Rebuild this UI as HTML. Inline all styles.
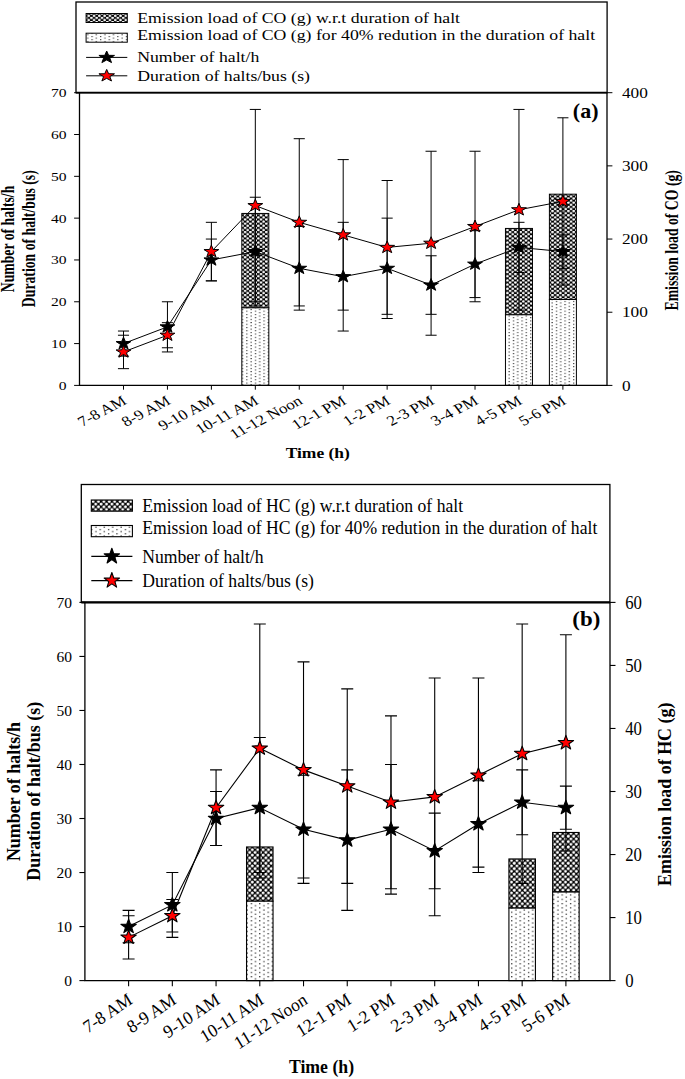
<!DOCTYPE html>
<html><head><meta charset="utf-8"><style>
html,body{margin:0;padding:0;background:#fff;width:685px;height:1079px;overflow:hidden}
svg{display:block;position:absolute;left:0;top:0}
text{font-family:"Liberation Serif",serif;fill:#000}
</style></head><body>
<svg width="685" height="1079" viewBox="0 0 685 1079">
<defs>
<pattern id="xha" width="5.3" height="4.2" patternUnits="userSpaceOnUse"><rect width="5.3" height="4.2" fill="#000"/><circle cx="1.3" cy="1.05" r="1.3" fill="#fff"/><circle cx="3.95" cy="3.15" r="1.3" fill="#fff"/><circle cx="-1.35" cy="3.15" r="1.3" fill="#fff"/><circle cx="3.95" cy="-1.05" r="1.3" fill="#fff"/><circle cx="-1.35" cy="-1.05" r="1.3" fill="#fff"/></pattern>
<pattern id="xhb" width="5.4" height="5.4" patternUnits="userSpaceOnUse" x="509.5" y="858.6"><rect width="5.4" height="5.4" fill="#000"/><circle cx="2.0" cy="1.9" r="1.5" fill="#fff"/><circle cx="4.7" cy="4.6" r="1.5" fill="#fff"/><circle cx="-0.7" cy="4.6" r="1.5" fill="#fff"/><circle cx="4.7" cy="-0.8" r="1.5" fill="#fff"/><circle cx="-0.7" cy="-0.8" r="1.5" fill="#fff"/></pattern>
<pattern id="dta" width="8.6" height="3.27" patternUnits="userSpaceOnUse" x="246.2" y="0"><rect width="8.6" height="3.27" fill="#fff"/><rect x="0" y="0" width="1.3" height="1.0" fill="#333"/><rect x="4.3" y="1.63" width="1.3" height="1.0" fill="#333"/></pattern>
<pattern id="dtb" width="8.4" height="4.3" patternUnits="userSpaceOnUse" x="250.7" y="903.0"><rect width="8.4" height="4.3" fill="#fff"/><rect x="0" y="0" width="1.3" height="1.2" fill="#333"/><rect x="4.2" y="2.15" width="1.3" height="1.2" fill="#333"/></pattern>
</defs>
<rect width="685" height="1079" fill="#fff"/>
<g id="ca">
<rect x="76.00" y="2.00" width="531.10" height="90.70" fill="none" stroke="#000" stroke-width="1.3"/>
<rect x="241.82" y="213.44" width="27.00" height="94.40" fill="url(#xha)" stroke="#000" stroke-width="1.0"/>
<rect x="241.82" y="307.83" width="27.00" height="77.57" fill="url(#dta)" stroke="#000" stroke-width="1.0"/>
<rect x="505.46" y="228.44" width="27.00" height="86.35" fill="url(#xha)" stroke="#000" stroke-width="1.0"/>
<rect x="505.46" y="314.79" width="27.00" height="70.61" fill="url(#dta)" stroke="#000" stroke-width="1.0"/>
<rect x="549.40" y="194.19" width="27.00" height="105.30" fill="url(#xha)" stroke="#000" stroke-width="1.0"/>
<rect x="549.40" y="299.49" width="27.00" height="85.91" fill="url(#dta)" stroke="#000" stroke-width="1.0"/>
<path d="M79.50,92.70 V385.40 H607.00 V92.70" fill="none" stroke="#000" stroke-width="1.3"/>
<line x1="76.00" y1="92.70" x2="607.00" y2="92.70" stroke="#000" stroke-width="1.8"/>
<line x1="74.10" y1="385.40" x2="79.50" y2="385.40" stroke="#000" stroke-width="1.0"/>
<line x1="74.10" y1="343.59" x2="79.50" y2="343.59" stroke="#000" stroke-width="1.0"/>
<line x1="74.10" y1="301.77" x2="79.50" y2="301.77" stroke="#000" stroke-width="1.0"/>
<line x1="74.10" y1="259.96" x2="79.50" y2="259.96" stroke="#000" stroke-width="1.0"/>
<line x1="74.10" y1="218.14" x2="79.50" y2="218.14" stroke="#000" stroke-width="1.0"/>
<line x1="74.10" y1="176.33" x2="79.50" y2="176.33" stroke="#000" stroke-width="1.0"/>
<line x1="74.10" y1="134.51" x2="79.50" y2="134.51" stroke="#000" stroke-width="1.0"/>
<line x1="74.10" y1="92.70" x2="79.50" y2="92.70" stroke="#000" stroke-width="1.0"/>
<line x1="607.00" y1="385.40" x2="612.40" y2="385.40" stroke="#000" stroke-width="1.0"/>
<line x1="607.00" y1="312.22" x2="612.40" y2="312.22" stroke="#000" stroke-width="1.0"/>
<line x1="607.00" y1="239.05" x2="612.40" y2="239.05" stroke="#000" stroke-width="1.0"/>
<line x1="607.00" y1="165.87" x2="612.40" y2="165.87" stroke="#000" stroke-width="1.0"/>
<line x1="607.00" y1="92.70" x2="612.40" y2="92.70" stroke="#000" stroke-width="1.0"/>
<line x1="123.50" y1="385.40" x2="123.50" y2="389.70" stroke="#000" stroke-width="1.0"/>
<line x1="167.44" y1="385.40" x2="167.44" y2="389.70" stroke="#000" stroke-width="1.0"/>
<line x1="211.38" y1="385.40" x2="211.38" y2="389.70" stroke="#000" stroke-width="1.0"/>
<line x1="255.32" y1="385.40" x2="255.32" y2="389.70" stroke="#000" stroke-width="1.0"/>
<line x1="299.26" y1="385.40" x2="299.26" y2="389.70" stroke="#000" stroke-width="1.0"/>
<line x1="343.20" y1="385.40" x2="343.20" y2="389.70" stroke="#000" stroke-width="1.0"/>
<line x1="387.14" y1="385.40" x2="387.14" y2="389.70" stroke="#000" stroke-width="1.0"/>
<line x1="431.08" y1="385.40" x2="431.08" y2="389.70" stroke="#000" stroke-width="1.0"/>
<line x1="475.02" y1="385.40" x2="475.02" y2="389.70" stroke="#000" stroke-width="1.0"/>
<line x1="518.96" y1="385.40" x2="518.96" y2="389.70" stroke="#000" stroke-width="1.0"/>
<line x1="562.90" y1="385.40" x2="562.90" y2="389.70" stroke="#000" stroke-width="1.0"/>
<polyline points="123.50,343.59 167.44,326.86 211.38,259.96 255.32,251.59 299.26,268.32 343.20,276.68 387.14,268.32 431.08,285.05 475.02,264.14 518.96,247.41 562.90,251.59" fill="none" stroke="#000" stroke-width="1.0"/>
<path d="M123.50,356.13 V331.04 M117.95,356.13 H129.05 M117.95,331.04 H129.05" fill="none" stroke="#000" stroke-width="1.0"/>
<path d="M167.44,351.95 V301.77 M161.89,351.95 H172.99 M161.89,301.77 H172.99" fill="none" stroke="#000" stroke-width="1.0"/>
<path d="M211.38,280.86 V239.05 M205.83,280.86 H216.93 M205.83,239.05 H216.93" fill="none" stroke="#000" stroke-width="1.0"/>
<path d="M255.32,305.95 V197.24 M249.77,305.95 H260.87 M249.77,197.24 H260.87" fill="none" stroke="#000" stroke-width="1.0"/>
<path d="M299.26,310.13 V226.51 M293.71,310.13 H304.81 M293.71,226.51 H304.81" fill="none" stroke="#000" stroke-width="1.0"/>
<path d="M343.20,331.04 V222.32 M337.65,331.04 H348.75 M337.65,222.32 H348.75" fill="none" stroke="#000" stroke-width="1.0"/>
<path d="M387.14,318.50 V218.14 M381.59,318.50 H392.69 M381.59,218.14 H392.69" fill="none" stroke="#000" stroke-width="1.0"/>
<path d="M431.08,314.32 V255.78 M425.53,314.32 H436.63 M425.53,255.78 H436.63" fill="none" stroke="#000" stroke-width="1.0"/>
<path d="M475.02,297.59 V230.69 M469.47,297.59 H480.57 M469.47,230.69 H480.57" fill="none" stroke="#000" stroke-width="1.0"/>
<path d="M518.96,272.50 V222.32 M513.41,272.50 H524.51 M513.41,222.32 H524.51" fill="none" stroke="#000" stroke-width="1.0"/>
<path d="M562.90,268.32 V234.87 M557.35,268.32 H568.45 M557.35,234.87 H568.45" fill="none" stroke="#000" stroke-width="1.0"/>
<polyline points="123.50,351.95 167.44,335.22 211.38,251.59 255.32,205.60 299.26,222.32 343.20,234.87 387.14,247.41 431.08,243.23 475.02,226.51 518.96,209.78 562.90,201.42" fill="none" stroke="#000" stroke-width="1.0"/>
<path d="M123.50,368.67 V335.22 M117.95,368.67 H129.05 M117.95,335.22 H129.05" fill="none" stroke="#000" stroke-width="1.0"/>
<path d="M167.44,347.77 V322.68 M161.89,347.77 H172.99 M161.89,322.68 H172.99" fill="none" stroke="#000" stroke-width="1.0"/>
<path d="M211.38,280.86 V222.32 M205.83,280.86 H216.93 M205.83,222.32 H216.93" fill="none" stroke="#000" stroke-width="1.0"/>
<path d="M255.32,301.77 V109.43 M249.77,301.77 H260.87 M249.77,109.43 H260.87" fill="none" stroke="#000" stroke-width="1.0"/>
<path d="M299.26,305.95 V138.70 M293.71,305.95 H304.81 M293.71,138.70 H304.81" fill="none" stroke="#000" stroke-width="1.0"/>
<path d="M343.20,310.13 V159.60 M337.65,310.13 H348.75 M337.65,159.60 H348.75" fill="none" stroke="#000" stroke-width="1.0"/>
<path d="M387.14,314.32 V180.51 M381.59,314.32 H392.69 M381.59,180.51 H392.69" fill="none" stroke="#000" stroke-width="1.0"/>
<path d="M431.08,335.22 V151.24 M425.53,335.22 H436.63 M425.53,151.24 H436.63" fill="none" stroke="#000" stroke-width="1.0"/>
<path d="M475.02,301.77 V151.24 M469.47,301.77 H480.57 M469.47,151.24 H480.57" fill="none" stroke="#000" stroke-width="1.0"/>
<path d="M518.96,310.13 V109.43 M513.41,310.13 H524.51 M513.41,109.43 H524.51" fill="none" stroke="#000" stroke-width="1.0"/>
<path d="M562.90,285.05 V117.79 M557.35,285.05 H568.45 M557.35,117.79 H568.45" fill="none" stroke="#000" stroke-width="1.0"/>
<polygon points="123.50,337.09 125.33,341.48 130.92,341.58 126.47,344.39 128.08,348.84 123.50,346.19 118.92,348.84 120.53,344.39 116.08,341.58 121.67,341.48" fill="#000" stroke="#000" stroke-width="1.0" stroke-linejoin="round"/>
<polygon points="167.44,320.36 169.27,324.76 174.86,324.85 170.41,327.66 172.02,332.12 167.44,329.46 162.86,332.12 164.47,327.66 160.02,324.85 165.61,324.76" fill="#000" stroke="#000" stroke-width="1.0" stroke-linejoin="round"/>
<polygon points="211.38,253.46 213.21,257.85 218.80,257.95 214.35,260.76 215.96,265.22 211.38,262.56 206.80,265.22 208.41,260.76 203.96,257.95 209.55,257.85" fill="#000" stroke="#000" stroke-width="1.0" stroke-linejoin="round"/>
<polygon points="255.32,245.09 257.15,249.49 262.74,249.59 258.29,252.40 259.90,256.85 255.32,254.19 250.74,256.85 252.35,252.40 247.90,249.59 253.49,249.49" fill="#000" stroke="#000" stroke-width="1.0" stroke-linejoin="round"/>
<polygon points="299.26,261.82 301.09,266.22 306.68,266.31 302.23,269.12 303.84,273.58 299.26,270.92 294.68,273.58 296.29,269.12 291.84,266.31 297.43,266.22" fill="#000" stroke="#000" stroke-width="1.0" stroke-linejoin="round"/>
<polygon points="343.20,270.18 345.03,274.58 350.62,274.67 346.17,277.49 347.78,281.94 343.20,279.28 338.62,281.94 340.23,277.49 335.78,274.67 341.37,274.58" fill="#000" stroke="#000" stroke-width="1.0" stroke-linejoin="round"/>
<polygon points="387.14,261.82 388.97,266.22 394.56,266.31 390.11,269.12 391.72,273.58 387.14,270.92 382.56,273.58 384.17,269.12 379.72,266.31 385.31,266.22" fill="#000" stroke="#000" stroke-width="1.0" stroke-linejoin="round"/>
<polygon points="431.08,278.55 432.91,282.94 438.50,283.04 434.05,285.85 435.66,290.30 431.08,287.65 426.50,290.30 428.11,285.85 423.66,283.04 429.25,282.94" fill="#000" stroke="#000" stroke-width="1.0" stroke-linejoin="round"/>
<polygon points="475.02,257.64 476.85,262.04 482.44,262.13 477.99,264.94 479.60,269.40 475.02,266.74 470.44,269.40 472.05,264.94 467.60,262.13 473.19,262.04" fill="#000" stroke="#000" stroke-width="1.0" stroke-linejoin="round"/>
<polygon points="518.96,240.91 520.79,245.31 526.38,245.40 521.93,248.22 523.54,252.67 518.96,250.01 514.38,252.67 515.99,248.22 511.54,245.40 517.13,245.31" fill="#000" stroke="#000" stroke-width="1.0" stroke-linejoin="round"/>
<polygon points="562.90,245.09 564.73,249.49 570.32,249.59 565.87,252.40 567.48,256.85 562.90,254.19 558.32,256.85 559.93,252.40 555.48,249.59 561.07,249.49" fill="#000" stroke="#000" stroke-width="1.0" stroke-linejoin="round"/>
<polygon points="123.50,345.45 125.33,349.85 130.92,349.94 126.47,352.75 128.08,357.21 123.50,354.55 118.92,357.21 120.53,352.75 116.08,349.94 121.67,349.85" fill="#ff0000" stroke="#000" stroke-width="1.0" stroke-linejoin="round"/>
<polygon points="167.44,328.72 169.27,333.12 174.86,333.21 170.41,336.03 172.02,340.48 167.44,337.82 162.86,340.48 164.47,336.03 160.02,333.21 165.61,333.12" fill="#ff0000" stroke="#000" stroke-width="1.0" stroke-linejoin="round"/>
<polygon points="211.38,245.09 213.21,249.49 218.80,249.59 214.35,252.40 215.96,256.85 211.38,254.19 206.80,256.85 208.41,252.40 203.96,249.59 209.55,249.49" fill="#ff0000" stroke="#000" stroke-width="1.0" stroke-linejoin="round"/>
<polygon points="255.32,199.10 257.15,203.50 262.74,203.59 258.29,206.40 259.90,210.86 255.32,208.20 250.74,210.86 252.35,206.40 247.90,203.59 253.49,203.50" fill="#ff0000" stroke="#000" stroke-width="1.0" stroke-linejoin="round"/>
<polygon points="299.26,215.82 301.09,220.22 306.68,220.32 302.23,223.13 303.84,227.58 299.26,224.92 294.68,227.58 296.29,223.13 291.84,220.32 297.43,220.22" fill="#ff0000" stroke="#000" stroke-width="1.0" stroke-linejoin="round"/>
<polygon points="343.20,228.37 345.03,232.77 350.62,232.86 346.17,235.67 347.78,240.13 343.20,237.47 338.62,240.13 340.23,235.67 335.78,232.86 341.37,232.77" fill="#ff0000" stroke="#000" stroke-width="1.0" stroke-linejoin="round"/>
<polygon points="387.14,240.91 388.97,245.31 394.56,245.40 390.11,248.22 391.72,252.67 387.14,250.01 382.56,252.67 384.17,248.22 379.72,245.40 385.31,245.31" fill="#ff0000" stroke="#000" stroke-width="1.0" stroke-linejoin="round"/>
<polygon points="431.08,236.73 432.91,241.13 438.50,241.22 434.05,244.03 435.66,248.49 431.08,245.83 426.50,248.49 428.11,244.03 423.66,241.22 429.25,241.13" fill="#ff0000" stroke="#000" stroke-width="1.0" stroke-linejoin="round"/>
<polygon points="475.02,220.01 476.85,224.40 482.44,224.50 477.99,227.31 479.60,231.76 475.02,229.11 470.44,231.76 472.05,227.31 467.60,224.50 473.19,224.40" fill="#ff0000" stroke="#000" stroke-width="1.0" stroke-linejoin="round"/>
<polygon points="518.96,203.28 520.79,207.68 526.38,207.77 521.93,210.58 523.54,215.04 518.96,212.38 514.38,215.04 515.99,210.58 511.54,207.77 517.13,207.68" fill="#ff0000" stroke="#000" stroke-width="1.0" stroke-linejoin="round"/>
<polygon points="562.90,194.92 564.73,199.31 570.32,199.41 565.87,202.22 567.48,206.68 562.90,204.02 558.32,206.68 559.93,202.22 555.48,199.41 561.07,199.31" fill="#ff0000" stroke="#000" stroke-width="1.0" stroke-linejoin="round"/>
<text transform="translate(66.60,389.80) scale(1.2,1)" text-anchor="end" font-size="13">0</text>
<text transform="translate(66.60,347.99) scale(1.2,1)" text-anchor="end" font-size="13">10</text>
<text transform="translate(66.60,306.17) scale(1.2,1)" text-anchor="end" font-size="13">20</text>
<text transform="translate(66.60,264.36) scale(1.2,1)" text-anchor="end" font-size="13">30</text>
<text transform="translate(66.60,222.54) scale(1.2,1)" text-anchor="end" font-size="13">40</text>
<text transform="translate(66.60,180.73) scale(1.2,1)" text-anchor="end" font-size="13">50</text>
<text transform="translate(66.60,138.91) scale(1.2,1)" text-anchor="end" font-size="13">60</text>
<text transform="translate(66.60,97.10) scale(1.2,1)" text-anchor="end" font-size="13">70</text>
<text transform="translate(621.90,390.50) scale(1.15,1)" font-size="15">0</text>
<text transform="translate(621.90,317.32) scale(1.15,1)" font-size="15">100</text>
<text transform="translate(621.90,244.15) scale(1.15,1)" font-size="15">200</text>
<text transform="translate(621.90,170.97) scale(1.15,1)" font-size="15">300</text>
<text transform="translate(621.90,97.80) scale(1.15,1)" font-size="15">400</text>
<text transform="translate(127.80,403.20) scale(1.2,1) rotate(-32)" text-anchor="end" font-size="14.3">7-8 AM</text>
<text transform="translate(171.74,403.20) scale(1.2,1) rotate(-32)" text-anchor="end" font-size="14.3">8-9 AM</text>
<text transform="translate(215.68,403.20) scale(1.2,1) rotate(-32)" text-anchor="end" font-size="14.3">9-10 AM</text>
<text transform="translate(259.62,403.20) scale(1.2,1) rotate(-32)" text-anchor="end" font-size="14.3">10-11 AM</text>
<text transform="translate(303.56,403.20) scale(1.2,1) rotate(-32)" text-anchor="end" font-size="14.3">11-12 Noon</text>
<text transform="translate(347.50,403.20) scale(1.2,1) rotate(-32)" text-anchor="end" font-size="14.3">12-1 PM</text>
<text transform="translate(391.44,403.20) scale(1.2,1) rotate(-32)" text-anchor="end" font-size="14.3">1-2 PM</text>
<text transform="translate(435.38,403.20) scale(1.2,1) rotate(-32)" text-anchor="end" font-size="14.3">2-3 PM</text>
<text transform="translate(479.32,403.20) scale(1.2,1) rotate(-32)" text-anchor="end" font-size="14.3">3-4 PM</text>
<text transform="translate(523.26,403.20) scale(1.2,1) rotate(-32)" text-anchor="end" font-size="14.3">4-5 PM</text>
<text transform="translate(567.20,403.20) scale(1.2,1) rotate(-32)" text-anchor="end" font-size="14.3">5-6 PM</text>
<text transform="translate(317.80,457.60) scale(1.19,1)" text-anchor="middle" font-size="14.7" font-weight="bold">Time (h)</text>
<text transform="translate(14.00,239.00) scale(1.33,1) rotate(-90)" text-anchor="middle" font-size="13.75" font-weight="bold">Number of halts/h</text>
<text transform="translate(34.70,238.70) scale(1.33,1) rotate(-90)" text-anchor="middle" font-size="13.75" font-weight="bold">Duration of halt/bus (s)</text>
<text transform="translate(677.60,240.30) scale(1.33,1) rotate(-90)" text-anchor="middle" font-size="13.75" font-weight="bold">Emission load of CO (g)</text>
<text transform="translate(598.50,118.10) scale(1.0,1)" text-anchor="end" font-size="22" font-weight="bold">(a)</text>
<rect x="86.10" y="13.50" width="41.20" height="9.00" fill="url(#xha)" stroke="#000" stroke-width="1.0"/>
<rect x="86.10" y="33.20" width="41.20" height="9.00" fill="url(#dta)" stroke="#000" stroke-width="1.0"/>
<line x1="86.10" y1="57.40" x2="127.30" y2="57.40" stroke="#000" stroke-width="1.0"/>
<polygon points="106.70,51.00 108.63,55.33 114.49,55.42 109.82,58.19 111.52,62.58 106.70,59.96 101.88,62.58 103.58,58.19 98.91,55.42 104.77,55.33" fill="#000" stroke="#000" stroke-width="1.0" stroke-linejoin="round"/>
<line x1="86.10" y1="75.80" x2="127.30" y2="75.80" stroke="#000" stroke-width="1.0"/>
<polygon points="106.70,69.40 108.63,73.73 114.49,73.82 109.82,76.59 111.52,80.98 106.70,78.36 101.88,80.98 103.58,76.59 98.91,73.82 104.77,73.73" fill="#ff0000" stroke="#000" stroke-width="1.0" stroke-linejoin="round"/>
<text transform="translate(137.20,23.20) scale(1.215,1)" font-size="14.6">Emission load of CO (g) w.r.t duration of halt</text>
<text transform="translate(137.20,40.30) scale(1.215,1)" font-size="14.6">Emission load of CO (g) for 40% redution in the duration of halt</text>
<text transform="translate(137.20,62.00) scale(1.215,1)" font-size="14.6">Number of halt/h</text>
<text transform="translate(137.20,80.80) scale(1.215,1)" font-size="14.6">Duration of halts/bus (s)</text>
</g>
<g id="cb">
<rect x="81.30" y="484.50" width="528.60" height="117.90" fill="none" stroke="#000" stroke-width="1.3"/>
<rect x="246.54" y="846.97" width="26.50" height="54.21" fill="url(#xhb)" stroke="#000" stroke-width="1.1"/>
<rect x="246.54" y="901.18" width="26.50" height="79.42" fill="url(#dtb)" stroke="#000" stroke-width="1.1"/>
<rect x="508.92" y="858.95" width="26.50" height="49.17" fill="url(#xhb)" stroke="#000" stroke-width="1.1"/>
<rect x="508.92" y="908.11" width="26.50" height="72.49" fill="url(#dtb)" stroke="#000" stroke-width="1.1"/>
<rect x="552.65" y="832.47" width="26.50" height="59.57" fill="url(#xhb)" stroke="#000" stroke-width="1.1"/>
<rect x="552.65" y="892.04" width="26.50" height="88.56" fill="url(#dtb)" stroke="#000" stroke-width="1.1"/>
<path d="M84.90,602.40 V980.60 H610.00 V602.40" fill="none" stroke="#000" stroke-width="1.3"/>
<line x1="81.30" y1="602.40" x2="610.00" y2="602.40" stroke="#000" stroke-width="2.2"/>
<line x1="79.40" y1="980.60" x2="84.90" y2="980.60" stroke="#000" stroke-width="1.1"/>
<line x1="79.40" y1="926.57" x2="84.90" y2="926.57" stroke="#000" stroke-width="1.1"/>
<line x1="79.40" y1="872.54" x2="84.90" y2="872.54" stroke="#000" stroke-width="1.1"/>
<line x1="79.40" y1="818.51" x2="84.90" y2="818.51" stroke="#000" stroke-width="1.1"/>
<line x1="79.40" y1="764.49" x2="84.90" y2="764.49" stroke="#000" stroke-width="1.1"/>
<line x1="79.40" y1="710.46" x2="84.90" y2="710.46" stroke="#000" stroke-width="1.1"/>
<line x1="79.40" y1="656.43" x2="84.90" y2="656.43" stroke="#000" stroke-width="1.1"/>
<line x1="79.40" y1="602.40" x2="84.90" y2="602.40" stroke="#000" stroke-width="1.1"/>
<line x1="610.00" y1="980.60" x2="615.50" y2="980.60" stroke="#000" stroke-width="1.1"/>
<line x1="610.00" y1="917.57" x2="615.50" y2="917.57" stroke="#000" stroke-width="1.1"/>
<line x1="610.00" y1="854.53" x2="615.50" y2="854.53" stroke="#000" stroke-width="1.1"/>
<line x1="610.00" y1="791.50" x2="615.50" y2="791.50" stroke="#000" stroke-width="1.1"/>
<line x1="610.00" y1="728.47" x2="615.50" y2="728.47" stroke="#000" stroke-width="1.1"/>
<line x1="610.00" y1="665.43" x2="615.50" y2="665.43" stroke="#000" stroke-width="1.1"/>
<line x1="610.00" y1="602.40" x2="615.50" y2="602.40" stroke="#000" stroke-width="1.1"/>
<line x1="128.60" y1="980.60" x2="128.60" y2="986.30" stroke="#000" stroke-width="1.1"/>
<line x1="172.33" y1="980.60" x2="172.33" y2="986.30" stroke="#000" stroke-width="1.1"/>
<line x1="216.06" y1="980.60" x2="216.06" y2="986.30" stroke="#000" stroke-width="1.1"/>
<line x1="259.79" y1="980.60" x2="259.79" y2="986.30" stroke="#000" stroke-width="1.1"/>
<line x1="303.52" y1="980.60" x2="303.52" y2="986.30" stroke="#000" stroke-width="1.1"/>
<line x1="347.25" y1="980.60" x2="347.25" y2="986.30" stroke="#000" stroke-width="1.1"/>
<line x1="390.98" y1="980.60" x2="390.98" y2="986.30" stroke="#000" stroke-width="1.1"/>
<line x1="434.71" y1="980.60" x2="434.71" y2="986.30" stroke="#000" stroke-width="1.1"/>
<line x1="478.44" y1="980.60" x2="478.44" y2="986.30" stroke="#000" stroke-width="1.1"/>
<line x1="522.17" y1="980.60" x2="522.17" y2="986.30" stroke="#000" stroke-width="1.1"/>
<line x1="565.90" y1="980.60" x2="565.90" y2="986.30" stroke="#000" stroke-width="1.1"/>
<polyline points="128.60,926.57 172.33,904.96 216.06,818.51 259.79,807.71 303.52,829.32 347.25,840.13 390.98,829.32 434.71,850.93 478.44,823.92 522.17,802.31 565.90,807.71" fill="none" stroke="#000" stroke-width="1.1"/>
<path d="M128.60,942.78 V910.36 M122.60,942.78 H134.60 M122.60,910.36 H134.60" fill="none" stroke="#000" stroke-width="1.1"/>
<path d="M172.33,937.38 V872.54 M166.33,937.38 H178.33 M166.33,872.54 H178.33" fill="none" stroke="#000" stroke-width="1.1"/>
<path d="M216.06,845.53 V791.50 M210.06,845.53 H222.06 M210.06,791.50 H222.06" fill="none" stroke="#000" stroke-width="1.1"/>
<path d="M259.79,877.95 V737.47 M253.79,877.95 H265.79 M253.79,737.47 H265.79" fill="none" stroke="#000" stroke-width="1.1"/>
<path d="M303.52,883.35 V775.29 M297.52,883.35 H309.52 M297.52,775.29 H309.52" fill="none" stroke="#000" stroke-width="1.1"/>
<path d="M347.25,910.36 V769.89 M341.25,910.36 H353.25 M341.25,769.89 H353.25" fill="none" stroke="#000" stroke-width="1.1"/>
<path d="M390.98,894.15 V764.49 M384.98,894.15 H396.98 M384.98,764.49 H396.98" fill="none" stroke="#000" stroke-width="1.1"/>
<path d="M434.71,888.75 V813.11 M428.71,888.75 H440.71 M428.71,813.11 H440.71" fill="none" stroke="#000" stroke-width="1.1"/>
<path d="M478.44,867.14 V780.69 M472.44,867.14 H484.44 M472.44,780.69 H484.44" fill="none" stroke="#000" stroke-width="1.1"/>
<path d="M522.17,834.72 V769.89 M516.17,834.72 H528.17 M516.17,769.89 H528.17" fill="none" stroke="#000" stroke-width="1.1"/>
<path d="M565.90,829.32 V786.10 M559.90,829.32 H571.90 M559.90,786.10 H571.90" fill="none" stroke="#000" stroke-width="1.1"/>
<polyline points="128.60,937.38 172.33,915.77 216.06,807.71 259.79,748.28 303.52,769.89 347.25,786.10 390.98,802.31 434.71,796.90 478.44,775.29 522.17,753.68 565.90,742.87" fill="none" stroke="#000" stroke-width="1.1"/>
<path d="M128.60,958.99 V915.77 M122.60,958.99 H134.60 M122.60,915.77 H134.60" fill="none" stroke="#000" stroke-width="1.1"/>
<path d="M172.33,931.97 V899.56 M166.33,931.97 H178.33 M166.33,899.56 H178.33" fill="none" stroke="#000" stroke-width="1.1"/>
<path d="M216.06,845.53 V769.89 M210.06,845.53 H222.06 M210.06,769.89 H222.06" fill="none" stroke="#000" stroke-width="1.1"/>
<path d="M259.79,872.54 V624.01 M253.79,872.54 H265.79 M253.79,624.01 H265.79" fill="none" stroke="#000" stroke-width="1.1"/>
<path d="M303.52,877.95 V661.83 M297.52,877.95 H309.52 M297.52,661.83 H309.52" fill="none" stroke="#000" stroke-width="1.1"/>
<path d="M347.25,883.35 V688.85 M341.25,883.35 H353.25 M341.25,688.85 H353.25" fill="none" stroke="#000" stroke-width="1.1"/>
<path d="M390.98,888.75 V715.86 M384.98,888.75 H396.98 M384.98,715.86 H396.98" fill="none" stroke="#000" stroke-width="1.1"/>
<path d="M434.71,915.77 V678.04 M428.71,915.77 H440.71 M428.71,678.04 H440.71" fill="none" stroke="#000" stroke-width="1.1"/>
<path d="M478.44,872.54 V678.04 M472.44,872.54 H484.44 M472.44,678.04 H484.44" fill="none" stroke="#000" stroke-width="1.1"/>
<path d="M522.17,883.35 V624.01 M516.17,883.35 H528.17 M516.17,624.01 H528.17" fill="none" stroke="#000" stroke-width="1.1"/>
<path d="M565.90,850.93 V634.82 M559.90,850.93 H571.90 M559.90,634.82 H571.90" fill="none" stroke="#000" stroke-width="1.1"/>
<polygon points="128.60,919.07 130.50,924.14 136.30,924.25 131.68,927.50 133.36,932.64 128.60,929.57 123.84,932.64 125.52,927.50 120.90,924.25 126.70,924.14" fill="#000" stroke="#000" stroke-width="1.1" stroke-linejoin="round"/>
<polygon points="172.33,897.46 174.23,902.53 180.03,902.64 175.41,905.89 177.09,911.03 172.33,907.96 167.57,911.03 169.25,905.89 164.63,902.64 170.43,902.53" fill="#000" stroke="#000" stroke-width="1.1" stroke-linejoin="round"/>
<polygon points="216.06,811.01 217.96,816.09 223.76,816.20 219.14,819.44 220.82,824.58 216.06,821.51 211.30,824.58 212.98,819.44 208.36,816.20 214.16,816.09" fill="#000" stroke="#000" stroke-width="1.1" stroke-linejoin="round"/>
<polygon points="259.79,800.21 261.69,805.28 267.49,805.39 262.87,808.64 264.55,813.78 259.79,810.71 255.03,813.78 256.71,808.64 252.09,805.39 257.89,805.28" fill="#000" stroke="#000" stroke-width="1.1" stroke-linejoin="round"/>
<polygon points="303.52,821.82 305.42,826.89 311.22,827.00 306.60,830.25 308.28,835.39 303.52,832.32 298.76,835.39 300.44,830.25 295.82,827.00 301.62,826.89" fill="#000" stroke="#000" stroke-width="1.1" stroke-linejoin="round"/>
<polygon points="347.25,832.63 349.15,837.70 354.95,837.81 350.33,841.05 352.01,846.19 347.25,843.13 342.49,846.19 344.17,841.05 339.55,837.81 345.35,837.70" fill="#000" stroke="#000" stroke-width="1.1" stroke-linejoin="round"/>
<polygon points="390.98,821.82 392.88,826.89 398.68,827.00 394.06,830.25 395.74,835.39 390.98,832.32 386.22,835.39 387.90,830.25 383.28,827.00 389.08,826.89" fill="#000" stroke="#000" stroke-width="1.1" stroke-linejoin="round"/>
<polygon points="434.71,843.43 436.61,848.50 442.41,848.61 437.79,851.86 439.47,857.00 434.71,853.93 429.95,857.00 431.63,851.86 427.01,848.61 432.81,848.50" fill="#000" stroke="#000" stroke-width="1.1" stroke-linejoin="round"/>
<polygon points="478.44,816.42 480.34,821.49 486.14,821.60 481.52,824.84 483.20,829.98 478.44,826.92 473.68,829.98 475.36,824.84 470.74,821.60 476.54,821.49" fill="#000" stroke="#000" stroke-width="1.1" stroke-linejoin="round"/>
<polygon points="522.17,794.81 524.07,799.88 529.87,799.99 525.25,803.23 526.93,808.37 522.17,805.31 517.41,808.37 519.09,803.23 514.47,799.99 520.27,799.88" fill="#000" stroke="#000" stroke-width="1.1" stroke-linejoin="round"/>
<polygon points="565.90,800.21 567.80,805.28 573.60,805.39 568.98,808.64 570.66,813.78 565.90,810.71 561.14,813.78 562.82,808.64 558.20,805.39 564.00,805.28" fill="#000" stroke="#000" stroke-width="1.1" stroke-linejoin="round"/>
<polygon points="128.60,929.88 130.50,934.95 136.30,935.06 131.68,938.30 133.36,943.44 128.60,940.38 123.84,943.44 125.52,938.30 120.90,935.06 126.70,934.95" fill="#ff0000" stroke="#000" stroke-width="1.1" stroke-linejoin="round"/>
<polygon points="172.33,908.27 174.23,913.34 180.03,913.45 175.41,916.69 177.09,921.83 172.33,918.77 167.57,921.83 169.25,916.69 164.63,913.45 170.43,913.34" fill="#ff0000" stroke="#000" stroke-width="1.1" stroke-linejoin="round"/>
<polygon points="216.06,800.21 217.96,805.28 223.76,805.39 219.14,808.64 220.82,813.78 216.06,810.71 211.30,813.78 212.98,808.64 208.36,805.39 214.16,805.28" fill="#ff0000" stroke="#000" stroke-width="1.1" stroke-linejoin="round"/>
<polygon points="259.79,740.78 261.69,745.85 267.49,745.96 262.87,749.20 264.55,754.34 259.79,751.28 255.03,754.34 256.71,749.20 252.09,745.96 257.89,745.85" fill="#ff0000" stroke="#000" stroke-width="1.1" stroke-linejoin="round"/>
<polygon points="303.52,762.39 305.42,767.46 311.22,767.57 306.60,770.82 308.28,775.96 303.52,772.89 298.76,775.96 300.44,770.82 295.82,767.57 301.62,767.46" fill="#ff0000" stroke="#000" stroke-width="1.1" stroke-linejoin="round"/>
<polygon points="347.25,778.60 349.15,783.67 354.95,783.78 350.33,787.02 352.01,792.16 347.25,789.10 342.49,792.16 344.17,787.02 339.55,783.78 345.35,783.67" fill="#ff0000" stroke="#000" stroke-width="1.1" stroke-linejoin="round"/>
<polygon points="390.98,794.81 392.88,799.88 398.68,799.99 394.06,803.23 395.74,808.37 390.98,805.31 386.22,808.37 387.90,803.23 383.28,799.99 389.08,799.88" fill="#ff0000" stroke="#000" stroke-width="1.1" stroke-linejoin="round"/>
<polygon points="434.71,789.40 436.61,794.48 442.41,794.59 437.79,797.83 439.47,802.97 434.71,799.90 429.95,802.97 431.63,797.83 427.01,794.59 432.81,794.48" fill="#ff0000" stroke="#000" stroke-width="1.1" stroke-linejoin="round"/>
<polygon points="478.44,767.79 480.34,772.86 486.14,772.97 481.52,776.22 483.20,781.36 478.44,778.29 473.68,781.36 475.36,776.22 470.74,772.97 476.54,772.86" fill="#ff0000" stroke="#000" stroke-width="1.1" stroke-linejoin="round"/>
<polygon points="522.17,746.18 524.07,751.25 529.87,751.36 525.25,754.61 526.93,759.75 522.17,756.68 517.41,759.75 519.09,754.61 514.47,751.36 520.27,751.25" fill="#ff0000" stroke="#000" stroke-width="1.1" stroke-linejoin="round"/>
<polygon points="565.90,735.37 567.80,740.45 573.60,740.56 568.98,743.80 570.66,748.94 565.90,745.87 561.14,748.94 562.82,743.80 558.20,740.56 564.00,740.45" fill="#ff0000" stroke="#000" stroke-width="1.1" stroke-linejoin="round"/>
<text transform="translate(72.00,985.90) scale(1.0,1)" text-anchor="end" font-size="15.5">0</text>
<text transform="translate(72.00,931.87) scale(1.0,1)" text-anchor="end" font-size="15.5">10</text>
<text transform="translate(72.00,877.84) scale(1.0,1)" text-anchor="end" font-size="15.5">20</text>
<text transform="translate(72.00,823.81) scale(1.0,1)" text-anchor="end" font-size="15.5">30</text>
<text transform="translate(72.00,769.79) scale(1.0,1)" text-anchor="end" font-size="15.5">40</text>
<text transform="translate(72.00,715.76) scale(1.0,1)" text-anchor="end" font-size="15.5">50</text>
<text transform="translate(72.00,661.73) scale(1.0,1)" text-anchor="end" font-size="15.5">60</text>
<text transform="translate(72.00,607.70) scale(1.0,1)" text-anchor="end" font-size="15.5">70</text>
<text transform="translate(625.20,987.10) scale(0.93,1)" font-size="18.0">0</text>
<text transform="translate(625.20,924.07) scale(0.93,1)" font-size="18.0">10</text>
<text transform="translate(625.20,861.03) scale(0.93,1)" font-size="18.0">20</text>
<text transform="translate(625.20,798.00) scale(0.93,1)" font-size="18.0">30</text>
<text transform="translate(625.20,734.97) scale(0.93,1)" font-size="18.0">40</text>
<text transform="translate(625.20,671.93) scale(0.93,1)" font-size="18.0">50</text>
<text transform="translate(625.20,608.90) scale(0.93,1)" font-size="18.0">60</text>
<text transform="translate(133.60,1002.80) scale(0.95,1) rotate(-32.6)" text-anchor="end" font-size="18.3">7-8 AM</text>
<text transform="translate(177.33,1002.80) scale(0.95,1) rotate(-32.6)" text-anchor="end" font-size="18.3">8-9 AM</text>
<text transform="translate(221.06,1002.80) scale(0.95,1) rotate(-32.6)" text-anchor="end" font-size="18.3">9-10 AM</text>
<text transform="translate(264.79,1002.80) scale(0.95,1) rotate(-32.6)" text-anchor="end" font-size="18.3">10-11 AM</text>
<text transform="translate(308.52,1002.80) scale(0.95,1) rotate(-32.6)" text-anchor="end" font-size="18.3">11-12 Noon</text>
<text transform="translate(352.25,1002.80) scale(0.95,1) rotate(-32.6)" text-anchor="end" font-size="18.3">12-1 PM</text>
<text transform="translate(395.98,1002.80) scale(0.95,1) rotate(-32.6)" text-anchor="end" font-size="18.3">1-2 PM</text>
<text transform="translate(439.71,1002.80) scale(0.95,1) rotate(-32.6)" text-anchor="end" font-size="18.3">2-3 PM</text>
<text transform="translate(483.44,1002.80) scale(0.95,1) rotate(-32.6)" text-anchor="end" font-size="18.3">3-4 PM</text>
<text transform="translate(527.17,1002.80) scale(0.95,1) rotate(-32.6)" text-anchor="end" font-size="18.3">4-5 PM</text>
<text transform="translate(570.90,1002.80) scale(0.95,1) rotate(-32.6)" text-anchor="end" font-size="18.3">5-6 PM</text>
<text transform="translate(321.50,1073.30) scale(0.97,1)" text-anchor="middle" font-size="18.3" font-weight="bold">Time (h)</text>
<text transform="translate(19.80,791.50) scale(1.04,1) rotate(-90)" text-anchor="middle" font-size="17.95" font-weight="bold">Number of halts/h</text>
<text transform="translate(40.00,791.30) scale(1.04,1) rotate(-90)" text-anchor="middle" font-size="17.95" font-weight="bold">Duration of halt/bus (s)</text>
<text transform="translate(671.30,794.20) scale(1.04,1) rotate(-90)" text-anchor="middle" font-size="17.95" font-weight="bold">Emission load of HC (g)</text>
<text transform="translate(600.30,626.30) scale(1.04,1)" text-anchor="end" font-size="22" font-weight="bold">(b)</text>
<rect x="91.30" y="500.00" width="41.10" height="11.20" fill="url(#xhb)" stroke="#000" stroke-width="1.1"/>
<rect x="91.30" y="525.50" width="41.10" height="11.20" fill="url(#dtb)" stroke="#000" stroke-width="1.1"/>
<line x1="91.30" y1="556.40" x2="132.40" y2="556.40" stroke="#000" stroke-width="1.1"/>
<polygon points="111.85,548.30 113.75,553.78 119.55,553.90 114.93,557.40 116.61,562.95 111.85,559.64 107.09,562.95 108.77,557.40 104.15,553.90 109.95,553.78" fill="#000" stroke="#000" stroke-width="1.1" stroke-linejoin="round"/>
<line x1="91.30" y1="580.60" x2="132.40" y2="580.60" stroke="#000" stroke-width="1.1"/>
<polygon points="111.85,572.50 113.75,577.98 119.55,578.10 114.93,581.60 116.61,587.15 111.85,583.84 107.09,587.15 108.77,581.60 104.15,578.10 109.95,577.98" fill="#ff0000" stroke="#000" stroke-width="1.1" stroke-linejoin="round"/>
<text transform="translate(142.20,511.80) scale(0.948,1)" font-size="18.6">Emission load of HC (g) w.r.t duration of halt</text>
<text transform="translate(142.20,534.10) scale(0.948,1)" font-size="18.6">Emission load of HC (g) for 40% redution in the duration of halt</text>
<text transform="translate(142.20,562.80) scale(0.948,1)" font-size="18.6">Number of halt/h</text>
<text transform="translate(142.20,586.60) scale(0.948,1)" font-size="18.6">Duration of halts/bus (s)</text>
</g>
</svg>
</body></html>
